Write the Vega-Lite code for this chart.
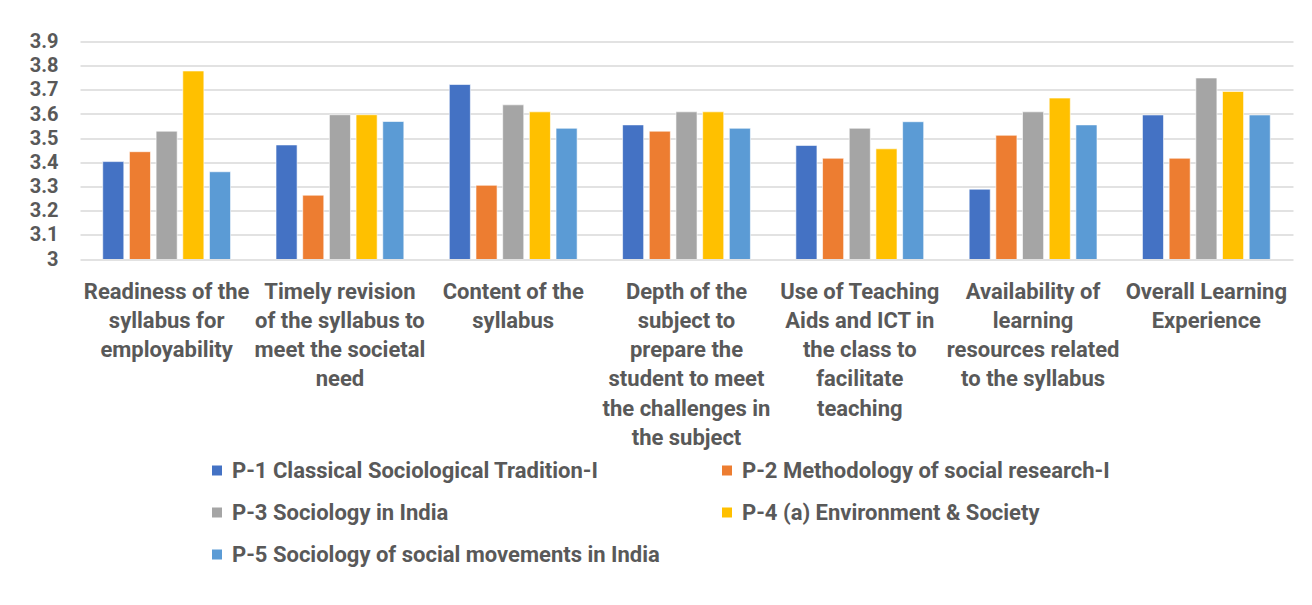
{
  "$schema": "https://vega.github.io/schema/vega-lite/v6.json",
  "autosize": {"type": "none"},
  "width": 1213,
  "height": 217.5,
  "padding": {"left": 80, "top": 41.5, "right": 19, "bottom": 346},
  "background": "white",
  "config": {
    "view": {"stroke": null},
    "font": "Roboto",
    "axis": {"labelFont": "Roboto", "labelFontWeight": "bold", "labelColor": "#595959"},
    "legend": {"labelFont": "Roboto", "labelFontWeight": "bold", "labelColor": "#595959"}
  },
  "data": {
    "values": [
      {"aspect": "Readiness of the syllabus for employability", "paper": "P-1 Classical Sociological Tradition-I", "score": 3.403},
      {"aspect": "Readiness of the syllabus for employability", "paper": "P-2 Methodology of social research-I", "score": 3.444},
      {"aspect": "Readiness of the syllabus for employability", "paper": "P-3 Sociology in India", "score": 3.529},
      {"aspect": "Readiness of the syllabus for employability", "paper": "P-4 (a) Environment & Society", "score": 3.778},
      {"aspect": "Readiness of the syllabus for employability", "paper": "P-5 Sociology of social movements in India", "score": 3.361},
      {"aspect": "Timely revision of the syllabus to meet the societal need", "paper": "P-1 Classical Sociological Tradition-I", "score": 3.472},
      {"aspect": "Timely revision of the syllabus to meet the societal need", "paper": "P-2 Methodology of social research-I", "score": 3.264},
      {"aspect": "Timely revision of the syllabus to meet the societal need", "paper": "P-3 Sociology in India", "score": 3.597},
      {"aspect": "Timely revision of the syllabus to meet the societal need", "paper": "P-4 (a) Environment & Society", "score": 3.597},
      {"aspect": "Timely revision of the syllabus to meet the societal need", "paper": "P-5 Sociology of social movements in India", "score": 3.569},
      {"aspect": "Content of the syllabus", "paper": "P-1 Classical Sociological Tradition-I", "score": 3.722},
      {"aspect": "Content of the syllabus", "paper": "P-2 Methodology of social research-I", "score": 3.305},
      {"aspect": "Content of the syllabus", "paper": "P-3 Sociology in India", "score": 3.638},
      {"aspect": "Content of the syllabus", "paper": "P-4 (a) Environment & Society", "score": 3.609},
      {"aspect": "Content of the syllabus", "paper": "P-5 Sociology of social movements in India", "score": 3.541},
      {"aspect": "Depth of the subject to prepare the student to meet the challenges in the subject", "paper": "P-1 Classical Sociological Tradition-I", "score": 3.555},
      {"aspect": "Depth of the subject to prepare the student to meet the challenges in the subject", "paper": "P-2 Methodology of social research-I", "score": 3.529},
      {"aspect": "Depth of the subject to prepare the student to meet the challenges in the subject", "paper": "P-3 Sociology in India", "score": 3.609},
      {"aspect": "Depth of the subject to prepare the student to meet the challenges in the subject", "paper": "P-4 (a) Environment & Society", "score": 3.609},
      {"aspect": "Depth of the subject to prepare the student to meet the challenges in the subject", "paper": "P-5 Sociology of social movements in India", "score": 3.541},
      {"aspect": "Use of Teaching Aids and ICT in the class to facilitate teaching", "paper": "P-1 Classical Sociological Tradition-I", "score": 3.47},
      {"aspect": "Use of Teaching Aids and ICT in the class to facilitate teaching", "paper": "P-2 Methodology of social research-I", "score": 3.417},
      {"aspect": "Use of Teaching Aids and ICT in the class to facilitate teaching", "paper": "P-3 Sociology in India", "score": 3.541},
      {"aspect": "Use of Teaching Aids and ICT in the class to facilitate teaching", "paper": "P-4 (a) Environment & Society", "score": 3.456},
      {"aspect": "Use of Teaching Aids and ICT in the class to facilitate teaching", "paper": "P-5 Sociology of social movements in India", "score": 3.568},
      {"aspect": "Availability of learning resources related to the syllabus", "paper": "P-1 Classical Sociological Tradition-I", "score": 3.289},
      {"aspect": "Availability of learning resources related to the syllabus", "paper": "P-2 Methodology of social research-I", "score": 3.512},
      {"aspect": "Availability of learning resources related to the syllabus", "paper": "P-3 Sociology in India", "score": 3.609},
      {"aspect": "Availability of learning resources related to the syllabus", "paper": "P-4 (a) Environment & Society", "score": 3.666},
      {"aspect": "Availability of learning resources related to the syllabus", "paper": "P-5 Sociology of social movements in India", "score": 3.555},
      {"aspect": "Overall Learning Experience", "paper": "P-1 Classical Sociological Tradition-I", "score": 3.596},
      {"aspect": "Overall Learning Experience", "paper": "P-2 Methodology of social research-I", "score": 3.417},
      {"aspect": "Overall Learning Experience", "paper": "P-3 Sociology in India", "score": 3.749},
      {"aspect": "Overall Learning Experience", "paper": "P-4 (a) Environment & Society", "score": 3.693},
      {"aspect": "Overall Learning Experience", "paper": "P-5 Sociology of social movements in India", "score": 3.596}
    ]
  },
  "mark": {"type": "bar", "clip": true, "stroke": "white", "strokeWidth": 1, "strokeOpacity": 0.6},
  "encoding": {
    "x": {
      "field": "aspect",
      "type": "nominal",
      "sort": null,
      "title": null,
      "scale": {"paddingInner": 0.23, "paddingOuter": 0.115},
      "axis": {
        "labelAngle": 0,
        "labelFontSize": 22,
        "labelLineHeight": 29.3,
        "labelPadding": 22,
        "labelLimit": 0,
        "ticks": false,
        "domain": false,
        "labelExpr": "datum.value == 'Readiness of the syllabus for employability' ? ['Readiness of the','syllabus for','employability'] : datum.value == 'Timely revision of the syllabus to meet the societal need' ? ['Timely revision','of the syllabus to','meet the societal','need'] : datum.value == 'Content of the syllabus' ? ['Content of the','syllabus'] : datum.value == 'Depth of the subject to prepare the student to meet the challenges in the subject' ? ['Depth of the','subject to','prepare the','student to meet','the challenges in','the subject'] : datum.value == 'Use of Teaching Aids and ICT in the class to facilitate teaching' ? ['Use of Teaching','Aids and ICT in','the class to','facilitate','teaching'] : datum.value == 'Availability of learning resources related to the syllabus' ? ['Availability of','learning','resources related','to the syllabus'] : ['Overall Learning','Experience']"
      }
    },
    "xOffset": {
      "field": "paper",
      "type": "nominal",
      "sort": null,
      "scale": {"paddingInner": 0.21, "paddingOuter": 0.105}
    },
    "y": {
      "field": "score",
      "type": "quantitative",
      "title": null,
      "scale": {"domain": [3, 3.9], "zero": false, "nice": false},
      "axis": {
        "values": [3, 3.1, 3.2, 3.3, 3.4, 3.5, 3.6, 3.7, 3.8, 3.9],
        "format": ".1~f",
        "labelFontSize": 20,
        "labelPadding": 22,
        "ticks": false,
        "domain": false,
        "grid": true,
        "gridColor": "#d9d9d9",
        "gridWidth": 1.5
      }
    },
    "color": {
      "field": "paper",
      "type": "nominal",
      "sort": null,
      "scale": {"range": ["#4472C4", "#ED7D31", "#A5A5A5", "#FFC000", "#5B9BD5"]},
      "legend": {
        "title": null,
        "orient": "none",
        "legendX": 126,
        "legendY": 418,
        "columns": 2,
        "direction": "horizontal",
        "symbolType": "square",
        "symbolSize": 100,
        "symbolStrokeWidth": 0,
        "labelFontSize": 22,
        "labelLimit": 0,
        "labelOffset": 4,
        "rowPadding": 20,
        "columnPadding": 56
      }
    }
  }
}
